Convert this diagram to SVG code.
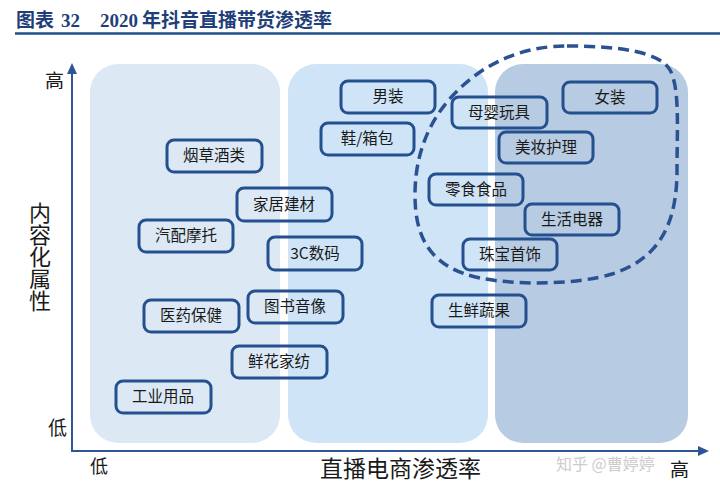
<svg xmlns="http://www.w3.org/2000/svg" width="720" height="494" viewBox="0 0 720 494">
<style>
.title{font-family:"Liberation Serif","Noto Sans CJK SC",serif;font-weight:bold;font-size:19px;fill:#1f3f7a}
.lbl{font-family:"Noto Sans CJK SC","Noto Sans",sans-serif;fill:#1a1a1a}
.node rect{fill:none;stroke:#24508f;stroke-width:3}
.node text{font-family:"Noto Sans CJK SC","Noto Sans",sans-serif;font-size:15.5px;fill:#1a1a1a;text-anchor:middle}
.axis{stroke:#2f5597;stroke-width:2;fill:none}
.wm{font-family:"Noto Sans CJK SC",sans-serif;font-size:16px;fill:#c4c4c4;opacity:0.85}
</style>
<rect width="720" height="494" fill="#ffffff"/>
<text class="title" y="27"><tspan x="16">图表</tspan><tspan x="61">32</tspan><tspan x="100">2020</tspan><tspan x="142">年抖音直播带货渗透率</tspan></text>
<line x1="15" y1="33.5" x2="720" y2="33.5" stroke="#1f4e8c" stroke-width="2.5"/>

<g id="panels">
<rect x="90" y="64" width="190" height="379" rx="28" fill="#dce9f5"/>
<rect x="288" y="64" width="200" height="379" rx="28" fill="#cfe4f6"/>
<rect x="495" y="64" width="193" height="379" rx="28" fill="#b7cbe3"/>
</g>

<g id="connectors">
<line class="axis" x1="72" y1="452" x2="72" y2="70"/>
<polygon points="72,63 67,74 77,74" fill="#2f5597"/>
<line class="axis" x1="71" y1="451" x2="700" y2="451"/>
<polygon points="709,451 698,446 698,456" fill="#2f5597"/>
<path d="M567 46 C620 46 660 52 670 70 C680 88 677 130 677 170 C677 220 662 258 612 274 C580 284 520 286 480 278 C432 268 415 240 415 195 C415 140 440 100 480 72 C510 52 540 46 567 46 Z" fill="none" stroke="#2a5291" stroke-width="3.5" stroke-dasharray="11 6"/>
</g>

<g id="axis-labels">
<text class="lbl" x="45" y="88" font-size="19">高</text>
<text class="lbl" x="48" y="435" font-size="19">低</text>
<text class="lbl" x="90" y="473" font-size="18">低</text>
<text class="lbl" x="670" y="477" font-size="19">高</text>
<text class="lbl" x="320" y="477" font-size="23">直播电商渗透率</text>
<text class="lbl" x="40" y="202" font-size="22" style="writing-mode:vertical-rl;text-orientation:upright">内容化属性</text>
</g>

<g id="n-nanzhuang" class="node"><rect x="341" y="81" width="94" height="32" rx="7"/><text x="388" y="102">男装</text></g>
<g id="n-xiebao" class="node"><rect x="321" y="123" width="93" height="32" rx="7"/><text x="367" y="144">鞋/箱包</text></g>
<g id="n-muying" class="node"><rect x="452" y="97" width="95" height="31" rx="7"/><text x="499" y="118">母婴玩具</text></g>
<g id="n-nvzhuang" class="node"><rect x="563" y="82" width="94" height="31" rx="7"/><text x="610" y="103">女装</text></g>
<g id="n-meizhuang" class="node"><rect x="499" y="132" width="94" height="31" rx="7"/><text x="546" y="153">美妆护理</text></g>
<g id="n-lingshi" class="node"><rect x="429" y="174" width="94" height="31" rx="7"/><text x="476" y="195">零食食品</text></g>
<g id="n-shenghuo" class="node"><rect x="525" y="204" width="94" height="31" rx="7"/><text x="572" y="225">生活电器</text></g>
<g id="n-zhubao" class="node"><rect x="463" y="239" width="94" height="31" rx="7"/><text x="510" y="260">珠宝首饰</text></g>
<g id="n-shengxian" class="node"><rect x="432" y="295" width="94" height="32" rx="7"/><text x="479" y="316">生鲜蔬果</text></g>
<g id="n-yancao" class="node"><rect x="167" y="140" width="95" height="32" rx="7"/><text x="214" y="161">烟草酒类</text></g>
<g id="n-jiaju" class="node"><rect x="237" y="188" width="95" height="33" rx="7"/><text x="284" y="210">家居建材</text></g>
<g id="n-qipei" class="node"><rect x="139" y="220" width="94" height="32" rx="7"/><text x="186" y="241">汽配摩托</text></g>
<g id="n-3c" class="node"><rect x="268" y="237" width="94" height="33" rx="7"/><text x="315" y="259">3C数码</text></g>
<g id="n-tushu" class="node"><rect x="248" y="291" width="95" height="32" rx="7"/><text x="295" y="312">图书音像</text></g>
<g id="n-yiyao" class="node"><rect x="144" y="300" width="95" height="32" rx="7"/><text x="191" y="321">医药保健</text></g>
<g id="n-xianhua" class="node"><rect x="232" y="346" width="95" height="32" rx="7"/><text x="279" y="367">鲜花家纺</text></g>
<g id="n-gongye" class="node"><rect x="116" y="381" width="95" height="32" rx="7"/><text x="163" y="402">工业用品</text></g>

<text class="wm" x="556" y="470">知乎 @曹婷婷</text>
</svg>
